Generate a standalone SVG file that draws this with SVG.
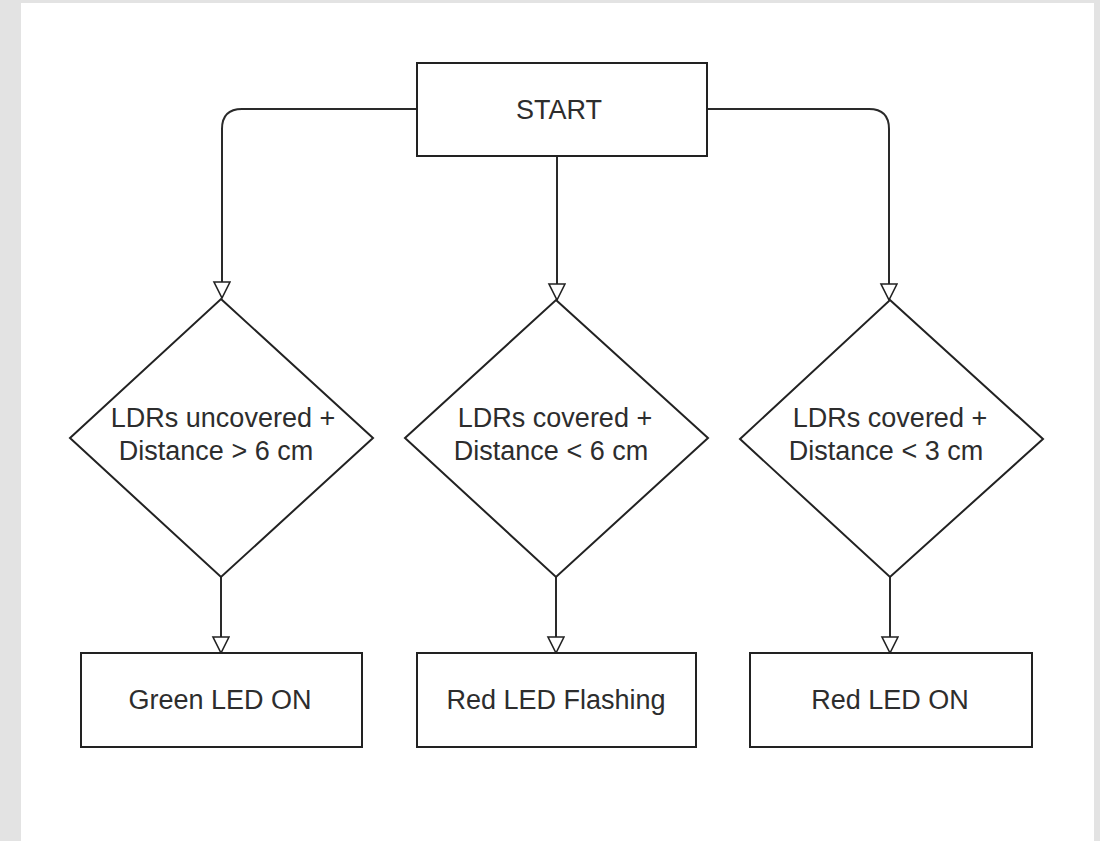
<svg xmlns="http://www.w3.org/2000/svg" width="1100" height="841" viewBox="0 0 1100 841">
<style>
.shape{fill:#ffffff;stroke:#222222;stroke-width:2}
.edge{fill:none;stroke:#2a2a2a;stroke-width:2;marker-end:url(#arrow)}
.lbl{font-family:"Liberation Sans",Arial,sans-serif;font-size:27px;fill:#2d2d2d;text-anchor:middle}
</style>
<defs>
<marker id="arrow" markerUnits="userSpaceOnUse" markerWidth="20" markerHeight="20" refX="17" refY="9" orient="auto">
<path d="M1,1 L17,9 L1,17 Z" fill="#ffffff" stroke="#222222" stroke-width="1.6"/>
</marker>
</defs>
<rect x="0" y="0" width="1100" height="841" fill="#e3e3e3"/>
<rect x="21" y="3" width="1073" height="838" fill="#ffffff"/>
<g id="connectors">
<path class="edge" d="M417,109 L242,109 Q222,109 222,129 L222,298"/>
<path class="edge" d="M557,156 L557,300"/>
<path class="edge" d="M707,109 L869,109 Q889,109 889,129 L889,300"/>
<path class="edge" d="M221,577 L221,653"/>
<path class="edge" d="M556,577 L556,653"/>
<path class="edge" d="M890,577 L890,653"/>
</g>
<g id="start">
<rect class="shape" x="417" y="63" width="290" height="93"/>
<text class="lbl" x="559" y="119">START</text>
</g>
<g id="d1">
<polygon class="shape" points="221,299 373,438 221,577 70,438"/>
<text class="lbl" x="223" y="427">LDRs uncovered +</text>
<text class="lbl" x="216" y="460">Distance &gt; 6 cm</text>
</g>
<g id="d2">
<polygon class="shape" points="556,300 708,438 556,577 405,438"/>
<text class="lbl" x="555" y="427">LDRs covered +</text>
<text class="lbl" x="551" y="460">Distance &lt; 6 cm</text>
</g>
<g id="d3">
<polygon class="shape" points="890,300 1043,439 890,577 740,439"/>
<text class="lbl" x="890" y="427">LDRs covered +</text>
<text class="lbl" x="886" y="460">Distance &lt; 3 cm</text>
</g>
<g id="b1">
<rect class="shape" x="81" y="653" width="281" height="94"/>
<text class="lbl" x="220" y="709">Green LED ON</text>
</g>
<g id="b2">
<rect class="shape" x="417" y="653" width="279" height="94"/>
<text class="lbl" x="556" y="709">Red LED Flashing</text>
</g>
<g id="b3">
<rect class="shape" x="750" y="653" width="282" height="94"/>
<text class="lbl" x="890" y="709">Red LED ON</text>
</g>
</svg>
